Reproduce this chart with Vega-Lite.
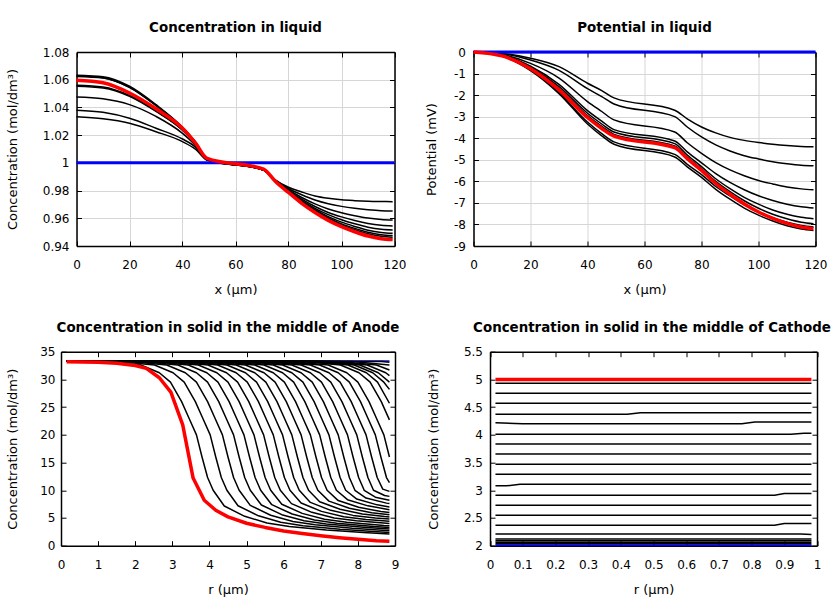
{
"$schema": "https://vega.github.io/schema/vega-lite/v6.json",
"padding": {"left": 6, "top": 21, "right": 0, "bottom": 0},
"background": "white",
"config": {
 "font": "DejaVu Sans",
 "view": {"stroke": null},
 "axis": {"labelFont": "DejaVu Sans", "labelFontSize": 12, "labelColor": "black", "titleFont": "DejaVu Sans", "titleFontSize": 13, "titleFontWeight": "normal", "titleColor": "black", "domain": true, "domainColor": "black", "domainWidth": 1.5, "grid": true, "gridColor": "#d6d6d6", "gridWidth": 1, "tickColor": "black", "tickSize": -5, "tickWidth": 1, "labelFlush": false},
 "axisX": {"labelPadding": 18.5, "titlePadding": 13},
 "axisY": {"labelPadding": 12.5},
 "title": {"font": "DejaVu Sans", "fontSize": 13.4, "fontWeight": "bold", "color": "black", "offset": 11.5, "anchor": "middle"},
 "line": {"strokeJoin": "round", "strokeCap": "butt"}
},
"datasets": {
"d1": [
{"s":"b1","x":0,"y":1.0332},{"s":"b1","x":10,"y":1.0318},{"s":"b1","x":20,"y":1.0286},{"s":"b1","x":30,"y":1.0225},{"s":"b1","x":40,"y":1.0153},{"s":"b1","x":45,"y":1.0097},{"s":"b1","x":49.3,"y":1.002},{"s":"b1","x":70.6,"y":0.9949},{"s":"b1","x":75,"y":0.9878},{"s":"b1","x":80,"y":0.9824},{"s":"b1","x":85,"y":0.979},{"s":"b1","x":90,"y":0.9761},{"s":"b1","x":95,"y":0.9744},{"s":"b1","x":100,"y":0.9733},{"s":"b1","x":105,"y":0.9727},{"s":"b1","x":110,"y":0.9723},{"s":"b1","x":115,"y":0.9721},{"s":"b1","x":119.3,"y":0.972},
{"s":"b2","x":0,"y":1.038},{"s":"b2","x":10,"y":1.0365},{"s":"b2","x":20,"y":1.0322},{"s":"b2","x":30,"y":1.025},{"s":"b2","x":40,"y":1.0172},{"s":"b2","x":45,"y":1.0112},{"s":"b2","x":49.3,"y":1.002},{"s":"b2","x":70.6,"y":0.9949},{"s":"b2","x":75,"y":0.9875},{"s":"b2","x":80,"y":0.9815},{"s":"b2","x":85,"y":0.977},{"s":"b2","x":90,"y":0.9732},{"s":"b2","x":95,"y":0.9705},{"s":"b2","x":100,"y":0.9686},{"s":"b2","x":105,"y":0.9672},{"s":"b2","x":110,"y":0.9662},{"s":"b2","x":115,"y":0.9655},{"s":"b2","x":119.3,"y":0.9653},
{"s":"b3","x":0,"y":1.0475},{"s":"b3","x":10,"y":1.0462},{"s":"b3","x":20,"y":1.042},{"s":"b3","x":30,"y":1.0335},{"s":"b3","x":40,"y":1.0213},{"s":"b3","x":45,"y":1.0124},{"s":"b3","x":49.3,"y":1.0022},{"s":"b3","x":70.6,"y":0.9949},{"s":"b3","x":75,"y":0.9873},{"s":"b3","x":80,"y":0.9806},{"s":"b3","x":85,"y":0.975},{"s":"b3","x":90,"y":0.9704},{"s":"b3","x":95,"y":0.9667},{"s":"b3","x":100,"y":0.964},{"s":"b3","x":105,"y":0.9619},{"s":"b3","x":110,"y":0.9602},{"s":"b3","x":115,"y":0.9592},{"s":"b3","x":119.3,"y":0.9588},
{"s":"b4","x":0,"y":1.0553},{"s":"b4","x":10,"y":1.054},{"s":"b4","x":20,"y":1.048},{"s":"b4","x":30,"y":1.0371},{"s":"b4","x":40,"y":1.0236},{"s":"b4","x":45,"y":1.0136},{"s":"b4","x":49.3,"y":1.0023},{"s":"b4","x":70.6,"y":0.9949},{"s":"b4","x":75,"y":0.9871},{"s":"b4","x":80,"y":0.98},{"s":"b4","x":85,"y":0.9738},{"s":"b4","x":90,"y":0.9685},{"s":"b4","x":95,"y":0.9642},{"s":"b4","x":100,"y":0.961},{"s":"b4","x":105,"y":0.9584},{"s":"b4","x":110,"y":0.9563},{"s":"b4","x":115,"y":0.955},{"s":"b4","x":119.3,"y":0.9545},
{"s":"b5","x":0,"y":1.056},{"s":"b5","x":10,"y":1.0547},{"s":"b5","x":20,"y":1.0486},{"s":"b5","x":30,"y":1.0375},{"s":"b5","x":40,"y":1.0238},{"s":"b5","x":45,"y":1.0138},{"s":"b5","x":49.3,"y":1.0023},{"s":"b5","x":70.6,"y":0.9949},{"s":"b5","x":75,"y":0.987},{"s":"b5","x":80,"y":0.9796},{"s":"b5","x":85,"y":0.9729},{"s":"b5","x":90,"y":0.9672},{"s":"b5","x":95,"y":0.9626},{"s":"b5","x":100,"y":0.9589},{"s":"b5","x":105,"y":0.956},{"s":"b5","x":110,"y":0.9536},{"s":"b5","x":115,"y":0.9521},{"s":"b5","x":119.3,"y":0.9516},
{"s":"b6","x":0,"y":1.0628},{"s":"b6","x":10,"y":1.0615},{"s":"b6","x":20,"y":1.0545},{"s":"b6","x":30,"y":1.0413},{"s":"b6","x":40,"y":1.0253},{"s":"b6","x":45,"y":1.0145},{"s":"b6","x":49.3,"y":1.0024},{"s":"b6","x":70.6,"y":0.9949},{"s":"b6","x":75,"y":0.9869},{"s":"b6","x":80,"y":0.9792},{"s":"b6","x":85,"y":0.9722},{"s":"b6","x":90,"y":0.9662},{"s":"b6","x":95,"y":0.9612},{"s":"b6","x":100,"y":0.9572},{"s":"b6","x":105,"y":0.9541},{"s":"b6","x":110,"y":0.9514},{"s":"b6","x":115,"y":0.9498},{"s":"b6","x":119.3,"y":0.9492},
{"s":"b7","x":0,"y":1.0623},{"s":"b7","x":10,"y":1.0612},{"s":"b7","x":20,"y":1.0545},{"s":"b7","x":30,"y":1.0415},{"s":"b7","x":40,"y":1.0255},{"s":"b7","x":45,"y":1.0147},{"s":"b7","x":49.3,"y":1.0025},{"s":"b7","x":70.6,"y":0.9949},{"s":"b7","x":75,"y":0.9868},{"s":"b7","x":80,"y":0.979},{"s":"b7","x":85,"y":0.9717},{"s":"b7","x":90,"y":0.9655},{"s":"b7","x":95,"y":0.9602},{"s":"b7","x":100,"y":0.956},{"s":"b7","x":105,"y":0.9527},{"s":"b7","x":110,"y":0.9499},{"s":"b7","x":115,"y":0.9481},{"s":"b7","x":119.3,"y":0.9475},
{"s":"b8","x":0,"y":1.0633},{"s":"b8","x":10,"y":1.0622},{"s":"b8","x":20,"y":1.0553},{"s":"b8","x":30,"y":1.042},{"s":"b8","x":40,"y":1.0257},{"s":"b8","x":45,"y":1.0148},{"s":"b8","x":49.3,"y":1.0025},{"s":"b8","x":70.6,"y":0.9949},{"s":"b8","x":75,"y":0.9868},{"s":"b8","x":80,"y":0.9788},{"s":"b8","x":85,"y":0.9713},{"s":"b8","x":90,"y":0.9649},{"s":"b8","x":95,"y":0.9595},{"s":"b8","x":100,"y":0.9552},{"s":"b8","x":105,"y":0.9517},{"s":"b8","x":110,"y":0.9488},{"s":"b8","x":115,"y":0.947},{"s":"b8","x":119.3,"y":0.9463},
{"s":"red","x":0,"y":1.0596},{"s":"red","x":10,"y":1.0578},{"s":"red","x":20,"y":1.0504},{"s":"red","x":30,"y":1.039},{"s":"red","x":40,"y":1.025},{"s":"red","x":45,"y":1.014},{"s":"red","x":49.3,"y":1.0032},{"s":"red","x":70.6,"y":0.9955},{"s":"red","x":75,"y":0.9867},{"s":"red","x":80,"y":0.9786},{"s":"red","x":85,"y":0.9708},{"s":"red","x":90,"y":0.9642},{"s":"red","x":95,"y":0.9585},{"s":"red","x":100,"y":0.954},{"s":"red","x":105,"y":0.9503},{"s":"red","x":110,"y":0.9472},{"s":"red","x":115,"y":0.9453},{"s":"red","x":119.3,"y":0.9446},
{"s":"blue","x":0,"y":1},{"s":"blue","x":120,"y":1}
],
"d2": [
{"s":"p1","x":0,"y":0},{"s":"p1","x":10,"y":-0.064},{"s":"p1","x":20,"y":-0.29},{"s":"p1","x":30,"y":-0.68},{"s":"p1","x":40,"y":-1.45},{"s":"p1","x":45,"y":-1.79},{"s":"p1","x":49.3,"y":-2.13},{"s":"p1","x":70.6,"y":-2.7},{"s":"p1","x":75,"y":-3.1},{"s":"p1","x":80,"y":-3.48},{"s":"p1","x":85,"y":-3.75},{"s":"p1","x":90,"y":-3.96},{"s":"p1","x":95,"y":-4.1},{"s":"p1","x":100,"y":-4.2},{"s":"p1","x":105,"y":-4.28},{"s":"p1","x":110,"y":-4.34},{"s":"p1","x":115,"y":-4.38},{"s":"p1","x":119.3,"y":-4.4},
{"s":"p2","x":0,"y":0},{"s":"p2","x":10,"y":-0.08},{"s":"p2","x":20,"y":-0.37},{"s":"p2","x":30,"y":-0.85},{"s":"p2","x":40,"y":-1.7},{"s":"p2","x":45,"y":-2.07},{"s":"p2","x":49.3,"y":-2.41},{"s":"p2","x":70.6,"y":-3},{"s":"p2","x":75,"y":-3.48},{"s":"p2","x":80,"y":-3.94},{"s":"p2","x":85,"y":-4.31},{"s":"p2","x":90,"y":-4.59},{"s":"p2","x":95,"y":-4.81},{"s":"p2","x":100,"y":-4.96},{"s":"p2","x":105,"y":-5.09},{"s":"p2","x":110,"y":-5.18},{"s":"p2","x":115,"y":-5.25},{"s":"p2","x":119.3,"y":-5.28},
{"s":"p3","x":0,"y":0},{"s":"p3","x":10,"y":-0.12},{"s":"p3","x":20,"y":-0.53},{"s":"p3","x":30,"y":-1.21},{"s":"p3","x":40,"y":-2.3},{"s":"p3","x":45,"y":-2.76},{"s":"p3","x":49.3,"y":-3.15},{"s":"p3","x":70.6,"y":-3.71},{"s":"p3","x":75,"y":-4.21},{"s":"p3","x":80,"y":-4.7},{"s":"p3","x":85,"y":-5.13},{"s":"p3","x":90,"y":-5.47},{"s":"p3","x":95,"y":-5.74},{"s":"p3","x":100,"y":-5.96},{"s":"p3","x":105,"y":-6.12},{"s":"p3","x":110,"y":-6.26},{"s":"p3","x":115,"y":-6.35},{"s":"p3","x":119.3,"y":-6.39},
{"s":"p4","x":0,"y":0},{"s":"p4","x":10,"y":-0.15},{"s":"p4","x":20,"y":-0.66},{"s":"p4","x":30,"y":-1.5},{"s":"p4","x":40,"y":-2.72},{"s":"p4","x":45,"y":-3.21},{"s":"p4","x":49.3,"y":-3.6},{"s":"p4","x":70.6,"y":-4.13},{"s":"p4","x":75,"y":-4.63},{"s":"p4","x":80,"y":-5.14},{"s":"p4","x":85,"y":-5.64},{"s":"p4","x":90,"y":-6.05},{"s":"p4","x":95,"y":-6.39},{"s":"p4","x":100,"y":-6.67},{"s":"p4","x":105,"y":-6.89},{"s":"p4","x":110,"y":-7.06},{"s":"p4","x":115,"y":-7.18},{"s":"p4","x":119.3,"y":-7.24},
{"s":"p5","x":0,"y":0},{"s":"p5","x":10,"y":-0.16},{"s":"p5","x":20,"y":-0.71},{"s":"p5","x":30,"y":-1.6},{"s":"p5","x":40,"y":-2.84},{"s":"p5","x":45,"y":-3.34},{"s":"p5","x":49.3,"y":-3.71},{"s":"p5","x":70.6,"y":-4.25},{"s":"p5","x":75,"y":-4.78},{"s":"p5","x":80,"y":-5.32},{"s":"p5","x":85,"y":-5.88},{"s":"p5","x":90,"y":-6.34},{"s":"p5","x":95,"y":-6.74},{"s":"p5","x":100,"y":-7.06},{"s":"p5","x":105,"y":-7.33},{"s":"p5","x":110,"y":-7.53},{"s":"p5","x":115,"y":-7.67},{"s":"p5","x":119.3,"y":-7.74},
{"s":"p6","x":0,"y":0},{"s":"p6","x":10,"y":-0.17},{"s":"p6","x":20,"y":-0.74},{"s":"p6","x":30,"y":-1.68},{"s":"p6","x":40,"y":-2.95},{"s":"p6","x":45,"y":-3.45},{"s":"p6","x":49.3,"y":-3.82},{"s":"p6","x":70.6,"y":-4.36},{"s":"p6","x":75,"y":-4.88},{"s":"p6","x":80,"y":-5.42},{"s":"p6","x":85,"y":-6},{"s":"p6","x":90,"y":-6.48},{"s":"p6","x":95,"y":-6.9},{"s":"p6","x":100,"y":-7.25},{"s":"p6","x":105,"y":-7.53},{"s":"p6","x":110,"y":-7.74},{"s":"p6","x":115,"y":-7.9},{"s":"p6","x":119.3,"y":-7.97},
{"s":"p8","x":0,"y":0},{"s":"p8","x":10,"y":-0.19},{"s":"p8","x":20,"y":-0.83},{"s":"p8","x":30,"y":-1.88},{"s":"p8","x":40,"y":-3.25},{"s":"p8","x":45,"y":-3.79},{"s":"p8","x":49.3,"y":-4.17},{"s":"p8","x":70.6,"y":-4.75},{"s":"p8","x":75,"y":-5.21},{"s":"p8","x":80,"y":-5.69},{"s":"p8","x":85,"y":-6.24},{"s":"p8","x":90,"y":-6.68},{"s":"p8","x":95,"y":-7.09},{"s":"p8","x":100,"y":-7.42},{"s":"p8","x":105,"y":-7.69},{"s":"p8","x":110,"y":-7.9},{"s":"p8","x":115,"y":-8.05},{"s":"p8","x":119.3,"y":-8.12},
{"s":"p9","x":0,"y":0},{"s":"p9","x":10,"y":-0.19},{"s":"p9","x":20,"y":-0.86},{"s":"p9","x":30,"y":-1.93},{"s":"p9","x":40,"y":-3.34},{"s":"p9","x":45,"y":-3.89},{"s":"p9","x":49.3,"y":-4.28},{"s":"p9","x":70.6,"y":-4.87},{"s":"p9","x":75,"y":-5.33},{"s":"p9","x":80,"y":-5.82},{"s":"p9","x":85,"y":-6.37},{"s":"p9","x":90,"y":-6.83},{"s":"p9","x":95,"y":-7.24},{"s":"p9","x":100,"y":-7.57},{"s":"p9","x":105,"y":-7.84},{"s":"p9","x":110,"y":-8.06},{"s":"p9","x":115,"y":-8.21},{"s":"p9","x":119.3,"y":-8.28},
{"s":"red","x":0,"y":0},{"s":"red","x":10,"y":-0.18},{"s":"red","x":20,"y":-0.78},{"s":"red","x":30,"y":-1.76},{"s":"red","x":40,"y":-3.04},{"s":"red","x":45,"y":-3.55},{"s":"red","x":49.3,"y":-3.9},{"s":"red","x":70.6,"y":-4.44},{"s":"red","x":75,"y":-4.95},{"s":"red","x":80,"y":-5.49},{"s":"red","x":85,"y":-6.1},{"s":"red","x":90,"y":-6.6},{"s":"red","x":95,"y":-7.05},{"s":"red","x":100,"y":-7.42},{"s":"red","x":105,"y":-7.72},{"s":"red","x":110,"y":-7.95},{"s":"red","x":115,"y":-8.12},{"s":"red","x":119.3,"y":-8.2},
{"s":"blue","x":0,"y":0},{"s":"blue","x":120,"y":0}
],
"d3": [
{"s":"c1","x":0.15,"y":33.3},{"s":"c1","x":1.15,"y":33.25},{"s":"c1","x":2.15,"y":32.6},{"s":"c1","x":2.65,"y":31.2},{"s":"c1","x":2.95,"y":29.5},{"s":"c1","x":3.25,"y":26},{"s":"c1","x":3.45,"y":23},{"s":"c1","x":3.65,"y":20},{"s":"c1","x":3.8,"y":16},{"s":"c1","x":3.95,"y":12.3},{"s":"c1","x":4.1,"y":10},{"s":"c1","x":4.4,"y":7.16},{"s":"c1","x":4.95,"y":5.3},{"s":"c1","x":5.55,"y":4.11},{"s":"c1","x":6.15,"y":3.48},{"s":"c1","x":7.15,"y":2.85},{"s":"c1","x":8.15,"y":2.38},{"s":"c1","x":8.85,"y":2.1},
{"s":"c2","x":0.15,"y":33.3},{"s":"c2","x":1.52,"y":33.25},{"s":"c2","x":2.52,"y":32.6},{"s":"c2","x":3.02,"y":31.2},{"s":"c2","x":3.32,"y":29.5},{"s":"c2","x":3.62,"y":26},{"s":"c2","x":3.82,"y":23},{"s":"c2","x":4.02,"y":20},{"s":"c2","x":4.17,"y":16},{"s":"c2","x":4.32,"y":12.3},{"s":"c2","x":4.47,"y":10},{"s":"c2","x":4.77,"y":7.21},{"s":"c2","x":5.32,"y":5.39},{"s":"c2","x":5.92,"y":4.22},{"s":"c2","x":6.52,"y":3.6},{"s":"c2","x":7.52,"y":2.98},{"s":"c2","x":8.52,"y":2.52},{"s":"c2","x":8.85,"y":2.4},
{"s":"c3","x":0.15,"y":33.3},{"s":"c3","x":1.85,"y":33.25},{"s":"c3","x":2.85,"y":32.6},{"s":"c3","x":3.35,"y":31.2},{"s":"c3","x":3.65,"y":29.5},{"s":"c3","x":3.95,"y":26},{"s":"c3","x":4.15,"y":23},{"s":"c3","x":4.35,"y":20},{"s":"c3","x":4.5,"y":16},{"s":"c3","x":4.65,"y":12.3},{"s":"c3","x":4.8,"y":10},{"s":"c3","x":5.1,"y":7.28},{"s":"c3","x":5.65,"y":5.5},{"s":"c3","x":6.25,"y":4.36},{"s":"c3","x":6.85,"y":3.76},{"s":"c3","x":7.85,"y":3.15},{"s":"c3","x":8.85,"y":2.7},
{"s":"c4","x":0.15,"y":33.3},{"s":"c4","x":2.15,"y":33.25},{"s":"c4","x":3.15,"y":32.6},{"s":"c4","x":3.65,"y":31.2},{"s":"c4","x":3.95,"y":29.5},{"s":"c4","x":4.25,"y":26},{"s":"c4","x":4.45,"y":23},{"s":"c4","x":4.65,"y":20},{"s":"c4","x":4.8,"y":16},{"s":"c4","x":4.95,"y":12.3},{"s":"c4","x":5.1,"y":10},{"s":"c4","x":5.4,"y":7.34},{"s":"c4","x":5.95,"y":5.6},{"s":"c4","x":6.55,"y":4.49},{"s":"c4","x":7.15,"y":3.9},{"s":"c4","x":8.15,"y":3.31},{"s":"c4","x":8.85,"y":3},
{"s":"c5","x":0.15,"y":33.3},{"s":"c5","x":2.43,"y":33.25},{"s":"c5","x":3.43,"y":32.6},{"s":"c5","x":3.93,"y":31.2},{"s":"c5","x":4.23,"y":29.5},{"s":"c5","x":4.53,"y":26},{"s":"c5","x":4.73,"y":23},{"s":"c5","x":4.93,"y":20},{"s":"c5","x":5.08,"y":16},{"s":"c5","x":5.23,"y":12.3},{"s":"c5","x":5.38,"y":10},{"s":"c5","x":5.68,"y":7.4},{"s":"c5","x":6.23,"y":5.71},{"s":"c5","x":6.83,"y":4.63},{"s":"c5","x":7.43,"y":4.06},{"s":"c5","x":8.43,"y":3.48},{"s":"c5","x":8.85,"y":3.3},
{"s":"c6","x":0.15,"y":33.3},{"s":"c6","x":2.7,"y":33.25},{"s":"c6","x":3.7,"y":32.6},{"s":"c6","x":4.2,"y":31.2},{"s":"c6","x":4.5,"y":29.5},{"s":"c6","x":4.8,"y":26},{"s":"c6","x":5,"y":23},{"s":"c6","x":5.2,"y":20},{"s":"c6","x":5.35,"y":16},{"s":"c6","x":5.5,"y":12.3},{"s":"c6","x":5.65,"y":10},{"s":"c6","x":5.95,"y":7.48},{"s":"c6","x":6.5,"y":5.83},{"s":"c6","x":7.1,"y":4.78},{"s":"c6","x":7.7,"y":4.22},{"s":"c6","x":8.7,"y":3.66},{"s":"c6","x":8.85,"y":3.6},
{"s":"c7","x":0.15,"y":33.3},{"s":"c7","x":2.96,"y":33.25},{"s":"c7","x":3.96,"y":32.6},{"s":"c7","x":4.46,"y":31.2},{"s":"c7","x":4.76,"y":29.5},{"s":"c7","x":5.06,"y":26},{"s":"c7","x":5.26,"y":23},{"s":"c7","x":5.46,"y":20},{"s":"c7","x":5.61,"y":16},{"s":"c7","x":5.76,"y":12.3},{"s":"c7","x":5.91,"y":10},{"s":"c7","x":6.21,"y":7.59},{"s":"c7","x":6.76,"y":6.02},{"s":"c7","x":7.36,"y":5.01},{"s":"c7","x":7.96,"y":4.48},{"s":"c7","x":8.85,"y":4},
{"s":"c8","x":0.15,"y":33.3},{"s":"c8","x":3.22,"y":33.25},{"s":"c8","x":4.22,"y":32.6},{"s":"c8","x":4.72,"y":31.2},{"s":"c8","x":5.02,"y":29.5},{"s":"c8","x":5.32,"y":26},{"s":"c8","x":5.52,"y":23},{"s":"c8","x":5.72,"y":20},{"s":"c8","x":5.87,"y":16},{"s":"c8","x":6.02,"y":12.3},{"s":"c8","x":6.17,"y":10},{"s":"c8","x":6.47,"y":7.7},{"s":"c8","x":7.02,"y":6.19},{"s":"c8","x":7.62,"y":5.23},{"s":"c8","x":8.22,"y":4.72},{"s":"c8","x":8.85,"y":4.4},
{"s":"c9","x":0.15,"y":33.3},{"s":"c9","x":3.47,"y":33.25},{"s":"c9","x":4.47,"y":32.6},{"s":"c9","x":4.97,"y":31.2},{"s":"c9","x":5.27,"y":29.5},{"s":"c9","x":5.57,"y":26},{"s":"c9","x":5.77,"y":23},{"s":"c9","x":5.97,"y":20},{"s":"c9","x":6.12,"y":16},{"s":"c9","x":6.27,"y":12.3},{"s":"c9","x":6.42,"y":10},{"s":"c9","x":6.72,"y":7.81},{"s":"c9","x":7.27,"y":6.38},{"s":"c9","x":7.87,"y":5.47},{"s":"c9","x":8.47,"y":4.98},{"s":"c9","x":8.85,"y":4.8},
{"s":"c10","x":0.15,"y":33.3},{"s":"c10","x":3.72,"y":33.25},{"s":"c10","x":4.72,"y":32.6},{"s":"c10","x":5.22,"y":31.2},{"s":"c10","x":5.52,"y":29.5},{"s":"c10","x":5.82,"y":26},{"s":"c10","x":6.02,"y":23},{"s":"c10","x":6.22,"y":20},{"s":"c10","x":6.37,"y":16},{"s":"c10","x":6.52,"y":12.3},{"s":"c10","x":6.67,"y":10},{"s":"c10","x":6.97,"y":7.93},{"s":"c10","x":7.52,"y":6.58},{"s":"c10","x":8.12,"y":5.72},{"s":"c10","x":8.72,"y":5.26},{"s":"c10","x":8.85,"y":5.2},
{"s":"c11","x":0.15,"y":33.3},{"s":"c11","x":3.97,"y":33.25},{"s":"c11","x":4.97,"y":32.6},{"s":"c11","x":5.47,"y":31.2},{"s":"c11","x":5.77,"y":29.5},{"s":"c11","x":6.07,"y":26},{"s":"c11","x":6.27,"y":23},{"s":"c11","x":6.47,"y":20},{"s":"c11","x":6.62,"y":16},{"s":"c11","x":6.77,"y":12.3},{"s":"c11","x":6.92,"y":10},{"s":"c11","x":7.22,"y":8.04},{"s":"c11","x":7.77,"y":6.76},{"s":"c11","x":8.37,"y":5.95},{"s":"c11","x":8.85,"y":5.6},
{"s":"c12","x":0.15,"y":33.3},{"s":"c12","x":4.22,"y":33.25},{"s":"c12","x":5.22,"y":32.6},{"s":"c12","x":5.72,"y":31.2},{"s":"c12","x":6.02,"y":29.5},{"s":"c12","x":6.32,"y":26},{"s":"c12","x":6.52,"y":23},{"s":"c12","x":6.72,"y":20},{"s":"c12","x":6.87,"y":16},{"s":"c12","x":7.02,"y":12.3},{"s":"c12","x":7.17,"y":10},{"s":"c12","x":7.47,"y":8.14},{"s":"c12","x":8.02,"y":6.93},{"s":"c12","x":8.62,"y":6.16},{"s":"c12","x":8.85,"y":6},
{"s":"c13","x":0.15,"y":33.3},{"s":"c13","x":4.47,"y":33.25},{"s":"c13","x":5.47,"y":32.6},{"s":"c13","x":5.97,"y":31.2},{"s":"c13","x":6.27,"y":29.5},{"s":"c13","x":6.57,"y":26},{"s":"c13","x":6.77,"y":23},{"s":"c13","x":6.97,"y":20},{"s":"c13","x":7.12,"y":16},{"s":"c13","x":7.27,"y":12.3},{"s":"c13","x":7.42,"y":10},{"s":"c13","x":7.72,"y":8.3},{"s":"c13","x":8.27,"y":7.19},{"s":"c13","x":8.85,"y":6.5},
{"s":"c14","x":0.15,"y":33.3},{"s":"c14","x":4.72,"y":33.25},{"s":"c14","x":5.72,"y":32.6},{"s":"c14","x":6.22,"y":31.2},{"s":"c14","x":6.52,"y":29.5},{"s":"c14","x":6.82,"y":26},{"s":"c14","x":7.02,"y":23},{"s":"c14","x":7.22,"y":20},{"s":"c14","x":7.37,"y":16},{"s":"c14","x":7.52,"y":12.3},{"s":"c14","x":7.67,"y":10},{"s":"c14","x":7.97,"y":8.41},{"s":"c14","x":8.52,"y":7.37},{"s":"c14","x":8.85,"y":7},
{"s":"c15","x":0.15,"y":33.3},{"s":"c15","x":4.97,"y":33.25},{"s":"c15","x":5.97,"y":32.6},{"s":"c15","x":6.47,"y":31.2},{"s":"c15","x":6.77,"y":29.5},{"s":"c15","x":7.07,"y":26},{"s":"c15","x":7.27,"y":23},{"s":"c15","x":7.47,"y":20},{"s":"c15","x":7.62,"y":16},{"s":"c15","x":7.77,"y":12.3},{"s":"c15","x":7.92,"y":10},{"s":"c15","x":8.22,"y":8.59},{"s":"c15","x":8.77,"y":7.68},{"s":"c15","x":8.85,"y":7.6},
{"s":"c16","x":0.15,"y":33.3},{"s":"c16","x":5.22,"y":33.25},{"s":"c16","x":6.22,"y":32.6},{"s":"c16","x":6.72,"y":31.2},{"s":"c16","x":7.02,"y":29.5},{"s":"c16","x":7.32,"y":26},{"s":"c16","x":7.52,"y":23},{"s":"c16","x":7.72,"y":20},{"s":"c16","x":7.87,"y":16},{"s":"c16","x":8.02,"y":12.3},{"s":"c16","x":8.17,"y":10},{"s":"c16","x":8.47,"y":8.76},{"s":"c16","x":8.85,"y":8.2},
{"s":"c17","x":0.15,"y":33.3},{"s":"c17","x":5.47,"y":33.25},{"s":"c17","x":6.47,"y":32.6},{"s":"c17","x":6.97,"y":31.2},{"s":"c17","x":7.27,"y":29.5},{"s":"c17","x":7.57,"y":26},{"s":"c17","x":7.77,"y":23},{"s":"c17","x":7.97,"y":20},{"s":"c17","x":8.12,"y":16},{"s":"c17","x":8.27,"y":12.3},{"s":"c17","x":8.42,"y":10},{"s":"c17","x":8.72,"y":9.05},{"s":"c17","x":8.85,"y":8.9},
{"s":"c18","x":0.15,"y":33.3},{"s":"c18","x":5.72,"y":33.25},{"s":"c18","x":6.72,"y":32.6},{"s":"c18","x":7.22,"y":31.2},{"s":"c18","x":7.52,"y":29.5},{"s":"c18","x":7.82,"y":26},{"s":"c18","x":8.02,"y":23},{"s":"c18","x":8.22,"y":20},{"s":"c18","x":8.37,"y":16},{"s":"c18","x":8.52,"y":12.3},{"s":"c18","x":8.67,"y":10.2},{"s":"c18","x":8.85,"y":9.8},
{"s":"c19","x":0.15,"y":33.3},{"s":"c19","x":5.97,"y":33.25},{"s":"c19","x":6.97,"y":32.6},{"s":"c19","x":7.47,"y":31.2},{"s":"c19","x":7.77,"y":29.5},{"s":"c19","x":8.07,"y":26},{"s":"c19","x":8.27,"y":23},{"s":"c19","x":8.47,"y":20},{"s":"c19","x":8.62,"y":16},{"s":"c19","x":8.77,"y":12.3},{"s":"c19","x":8.85,"y":11.4},
{"s":"c20","x":0.15,"y":33.3},{"s":"c20","x":6.2,"y":33.25},{"s":"c20","x":7.2,"y":32.6},{"s":"c20","x":7.7,"y":31.2},{"s":"c20","x":8,"y":29.5},{"s":"c20","x":8.3,"y":26},{"s":"c20","x":8.5,"y":23},{"s":"c20","x":8.7,"y":20},{"s":"c20","x":8.85,"y":16},
{"s":"n1","x":0.15,"y":33.3},{"s":"n1","x":6.53,"y":33.25},{"s":"n1","x":7.53,"y":32.6},{"s":"n1","x":8.03,"y":31.2},{"s":"n1","x":8.33,"y":29.5},{"s":"n1","x":8.63,"y":26},{"s":"n1","x":8.85,"y":22.7},
{"s":"n2","x":0.15,"y":33.3},{"s":"n2","x":6.73,"y":33.25},{"s":"n2","x":7.73,"y":32.6},{"s":"n2","x":8.23,"y":31.2},{"s":"n2","x":8.53,"y":29.5},{"s":"n2","x":8.85,"y":25.7},
{"s":"n3","x":0.15,"y":33.3},{"s":"n3","x":6.9,"y":33.25},{"s":"n3","x":7.9,"y":32.6},{"s":"n3","x":8.4,"y":31.2},{"s":"n3","x":8.7,"y":29.5},{"s":"n3","x":8.85,"y":28.2},
{"s":"n4","x":0.15,"y":33.3},{"s":"n4","x":7.05,"y":33.25},{"s":"n4","x":8.05,"y":32.6},{"s":"n4","x":8.55,"y":31.2},{"s":"n4","x":8.85,"y":29.5},
{"s":"n5","x":0.15,"y":33.3},{"s":"n5","x":7.25,"y":33.25},{"s":"n5","x":8.25,"y":32.6},{"s":"n5","x":8.75,"y":31.2},{"s":"n5","x":8.85,"y":30.7},
{"s":"n6","x":0.15,"y":33.3},{"s":"n6","x":7.5,"y":33.25},{"s":"n6","x":8.5,"y":32.6},{"s":"n6","x":8.85,"y":31.7},
{"s":"n7","x":0.15,"y":33.3},{"s":"n7","x":7.85,"y":33.25},{"s":"n7","x":8.85,"y":32.6},
{"s":"n8","x":0.15,"y":33.3},{"s":"n8","x":8.65,"y":33.25},{"s":"n8","x":8.85,"y":33.1},
{"s":"red","x":0.15,"y":33.2},{"s":"red","x":1,"y":33.1},{"s":"red","x":1.5,"y":32.9},{"s":"red","x":2,"y":32.5},{"s":"red","x":2.3,"y":32},{"s":"red","x":2.65,"y":30.3},{"s":"red","x":2.96,"y":27.7},{"s":"red","x":3.28,"y":21.8},{"s":"red","x":3.56,"y":12.2},{"s":"red","x":3.86,"y":8.2},{"s":"red","x":4.17,"y":6.4},{"s":"red","x":4.5,"y":5.2},{"s":"red","x":5,"y":4.05},{"s":"red","x":5.5,"y":3.3},{"s":"red","x":6,"y":2.65},{"s":"red","x":6.5,"y":2.2},{"s":"red","x":7,"y":1.8},{"s":"red","x":7.5,"y":1.45},{"s":"red","x":8,"y":1.15},{"s":"red","x":8.5,"y":0.9},{"s":"red","x":8.85,"y":0.8},
{"s":"blue","x":0.15,"y":33.3},{"s":"blue","x":8.85,"y":33.3}
],
"d4": [
{"s":"l1","x":0.0167,"y":4.93},{"s":"l1","x":0.983,"y":4.93},
{"s":"l2","x":0.0167,"y":4.75},{"s":"l2","x":0.983,"y":4.75},
{"s":"l3","x":0.0167,"y":4.57},{"s":"l3","x":0.983,"y":4.57},
{"s":"l4","x":0.0167,"y":4.37},{"s":"l4","x":0.42,"y":4.37},{"s":"l4","x":0.46,"y":4.4},{"s":"l4","x":0.983,"y":4.4},
{"s":"l5","x":0.0167,"y":4.22},{"s":"l5","x":0.1,"y":4.2},{"s":"l5","x":0.77,"y":4.2},{"s":"l5","x":0.81,"y":4.23},{"s":"l5","x":0.983,"y":4.23},
{"s":"l6","x":0.0167,"y":4.01},{"s":"l6","x":0.92,"y":4.01},{"s":"l6","x":0.96,"y":4.03},{"s":"l6","x":0.983,"y":4.03},
{"s":"l7","x":0.0167,"y":3.835},{"s":"l7","x":0.983,"y":3.835},
{"s":"l8","x":0.0167,"y":3.655},{"s":"l8","x":0.983,"y":3.655},
{"s":"l9","x":0.0167,"y":3.47},{"s":"l9","x":0.983,"y":3.47},
{"s":"l10","x":0.0167,"y":3.29},{"s":"l10","x":0.983,"y":3.29},
{"s":"l11","x":0.0167,"y":3.08},{"s":"l11","x":0.05,"y":3.08},{"s":"l11","x":0.092,"y":3.11},{"s":"l11","x":0.983,"y":3.11},
{"s":"l12","x":0.0167,"y":2.91},{"s":"l12","x":0.87,"y":2.91},{"s":"l12","x":0.9,"y":2.94},{"s":"l12","x":0.983,"y":2.94},
{"s":"l13","x":0.0167,"y":2.73},{"s":"l13","x":0.983,"y":2.73},
{"s":"l14","x":0.0167,"y":2.55},{"s":"l14","x":0.983,"y":2.55},
{"s":"l15","x":0.0167,"y":2.37},{"s":"l15","x":0.87,"y":2.37},{"s":"l15","x":0.9,"y":2.4},{"s":"l15","x":0.983,"y":2.4},
{"s":"l16","x":0.0167,"y":2.21},{"s":"l16","x":0.95,"y":2.21},{"s":"l16","x":0.983,"y":2.2},
{"s":"l17","x":0.0167,"y":2.12},{"s":"l17","x":0.983,"y":2.12},
{"s":"l18","x":0.0167,"y":2.09},{"s":"l18","x":0.983,"y":2.09},
{"s":"l19","x":0.0167,"y":2.06},{"s":"l19","x":0.983,"y":2.06},
{"s":"l20","x":0.0167,"y":2.035},{"s":"l20","x":0.983,"y":2.035},
{"s":"red","x":0.0167,"y":5},{"s":"red","x":0.983,"y":5},
{"s":"blue","x":0.0167,"y":2.008},{"s":"blue","x":0.983,"y":2.008}
]
},
"concat": [
{
 "width": 343.5, "height": 194,
 "title": {"text": "Concentration in liquid", "dx": 2.75},
 "data": {"name": "d1"},
 "layer": [
  {"transform": [{"filter": "datum.s != 'red' && datum.s != 'blue'"}],
   "mark": {"type": "line", "color": "black", "strokeWidth": 1.5, "interpolate": "monotone"},
   "encoding": {
    "x": {"field": "x", "type": "quantitative", "scale": {"domain": [0, 120], "range": [15.5, 333.5], "nice": false, "zero": false}, "axis": {"title": "x (µm)", "values": [0,20,40,60,80,100,120]}},
    "y": {"field": "y", "type": "quantitative", "scale": {"domain": [0.94, 1.08], "nice": false, "zero": false}, "axis": {"title": "Concentration (mol/dm³)", "offset": -15.5, "titlePadding": 23, "values": [0.94,0.96,0.98,1,1.02,1.04,1.06,1.08], "format": "~g"}},
    "detail": {"field": "s"}}},
  {"transform": [{"filter": "datum.s == 'blue'"}],
   "mark": {"type": "line", "color": "#0000ff", "strokeWidth": 3},
   "encoding": {
    "x": {"field": "x", "type": "quantitative", "scale": {"domain": [0, 120], "range": [15.5, 333.5], "nice": false, "zero": false}, "axis": null},
    "y": {"field": "y", "type": "quantitative", "scale": {"domain": [0.94, 1.08], "nice": false, "zero": false}, "axis": null}}},
  {"transform": [{"filter": "datum.s == 'red'"}],
   "mark": {"type": "line", "color": "#ff0000", "strokeWidth": 3.5, "interpolate": "monotone"},
   "encoding": {
    "x": {"field": "x", "type": "quantitative", "scale": {"domain": [0, 120], "range": [15.5, 333.5], "nice": false, "zero": false}, "axis": {"orient": "top", "labels": false, "grid": false, "title": null, "values": [0,20,40,60,80,100,120]}},
    "y": {"field": "y", "type": "quantitative", "scale": {"domain": [0.94, 1.08], "nice": false, "zero": false}, "axis": {"orient": "right", "offset": -10, "labels": false, "grid": false, "title": null, "values": [0.94,0.96,0.98,1,1.02,1.04,1.06,1.08]}}}}
 ],
 "resolve": {"axis": {"x": "independent", "y": "independent"}}
},
{
 "width": 343.5, "height": 194,
 "title": {"text": "Potential in liquid", "dx": -0.75},
 "data": {"name": "d2"},
 "layer": [
  {"transform": [{"filter": "datum.s != 'red' && datum.s != 'blue'"}],
   "mark": {"type": "line", "color": "black", "strokeWidth": 1.5, "interpolate": "monotone"},
   "encoding": {
    "x": {"field": "x", "type": "quantitative", "scale": {"domain": [0, 120], "range": [0, 342], "nice": false, "zero": false}, "axis": {"title": "x (µm)", "values": [0,20,40,60,80,100,120]}},
    "y": {"field": "y", "type": "quantitative", "scale": {"domain": [-9, 0], "nice": false, "zero": false}, "axis": {"title": "Potential (mV)", "labelPadding": 13, "titlePadding": 14.8, "values": [-9,-8,-7,-6,-5,-4,-3,-2,-1,0], "labelExpr": "replace(datum.label, '−', '-')"}},
    "detail": {"field": "s"}}},
  {"transform": [{"filter": "datum.s == 'blue'"}],
   "mark": {"type": "line", "color": "#0000ff", "strokeWidth": 3},
   "encoding": {
    "x": {"field": "x", "type": "quantitative", "scale": {"domain": [0, 120], "range": [0, 342], "nice": false, "zero": false}, "axis": null},
    "y": {"field": "y", "type": "quantitative", "scale": {"domain": [-9, 0], "nice": false, "zero": false}, "axis": null}}},
  {"transform": [{"filter": "datum.s == 'red'"}],
   "mark": {"type": "line", "color": "#ff0000", "strokeWidth": 3.5, "interpolate": "monotone"},
   "encoding": {
    "x": {"field": "x", "type": "quantitative", "scale": {"domain": [0, 120], "range": [0, 342], "nice": false, "zero": false}, "axis": {"orient": "top", "labels": false, "grid": false, "title": null, "values": [0,20,40,60,80,100,120]}},
    "y": {"field": "y", "type": "quantitative", "scale": {"domain": [-9, 0], "nice": false, "zero": false}, "axis": {"orient": "right", "offset": -1.5, "labels": false, "grid": false, "title": null, "values": [-9,-8,-7,-6,-5,-4,-3,-2,-1,0]}}}}
 ],
 "resolve": {"axis": {"x": "independent", "y": "independent"}}
},
{
 "width": 343.5, "height": 194,
 "title": {"text": "Concentration in solid in the middle of Anode", "dx": -4.75},
 "data": {"name": "d3"},
 "layer": [
  {"transform": [{"filter": "datum.s == 'blue'"}],
   "mark": {"type": "line", "color": "#0000ff", "strokeWidth": 1.5},
   "encoding": {
    "x": {"field": "x", "type": "quantitative", "scale": {"domain": [0, 9], "range": [0, 334], "nice": false, "zero": false}, "axis": null},
    "y": {"field": "y", "type": "quantitative", "scale": {"domain": [0, 35], "nice": false, "zero": false}, "axis": null}}},
  {"transform": [{"filter": "datum.s != 'red' && datum.s != 'blue'"}],
   "mark": {"type": "line", "color": "black", "strokeWidth": 1.5},
   "encoding": {
    "x": {"field": "x", "type": "quantitative", "scale": {"domain": [0, 9], "range": [0, 334], "nice": false, "zero": false}, "axis": {"title": "r (µm)", "values": [0,1,2,3,4,5,6,7,8,9]}},
    "y": {"field": "y", "type": "quantitative", "scale": {"domain": [0, 35], "nice": false, "zero": false}, "axis": {"title": "Concentration (mol/dm³)", "labelPadding": 11, "titlePadding": 20.2, "values": [0,5,10,15,20,25,30,35]}},
    "detail": {"field": "s"}}},
  {"transform": [{"filter": "datum.s == 'red'"}],
   "mark": {"type": "line", "color": "#ff0000", "strokeWidth": 3.5},
   "encoding": {
    "x": {"field": "x", "type": "quantitative", "scale": {"domain": [0, 9], "range": [0, 334], "nice": false, "zero": false}, "axis": {"orient": "top", "labels": false, "grid": false, "title": null, "values": [0,1,2,3,4,5,6,7,8,9]}},
    "y": {"field": "y", "type": "quantitative", "scale": {"domain": [0, 35], "nice": false, "zero": false}, "axis": {"orient": "right", "offset": -9.5, "labels": false, "grid": false, "title": null, "values": [0,5,10,15,20,25,30,35]}}}}
 ],
 "resolve": {"axis": {"x": "independent", "y": "independent"}}
},
{
 "width": 343.5, "height": 194,
 "title": {"text": "Concentration in solid in the middle of Cathode", "dx": 6.75},
 "data": {"name": "d4"},
 "layer": [
  {"transform": [{"filter": "datum.s == 'blue'"}],
   "mark": {"type": "line", "color": "#0000ff", "strokeWidth": 2},
   "encoding": {
    "x": {"field": "x", "type": "quantitative", "scale": {"domain": [0, 1], "range": [16.5, 343.5], "nice": false, "zero": false}, "axis": null},
    "y": {"field": "y", "type": "quantitative", "scale": {"domain": [2, 5.5], "nice": false, "zero": false}, "axis": null}}},
  {"transform": [{"filter": "datum.s != 'red' && datum.s != 'blue'"}],
   "mark": {"type": "line", "color": "black", "strokeWidth": 1.5},
   "encoding": {
    "x": {"field": "x", "type": "quantitative", "scale": {"domain": [0, 1], "range": [16.5, 343.5], "nice": false, "zero": false}, "axis": {"title": "r (µm)", "values": [0,0.1,0.2,0.3,0.4,0.5,0.6,0.7,0.8,0.9,1], "format": "~g"}},
    "y": {"field": "y", "type": "quantitative", "scale": {"domain": [2, 5.5], "nice": false, "zero": false}, "axis": {"title": "Concentration (mol/dm³)", "offset": -16.5, "titlePadding": 23.4, "values": [2,2.5,3,3.5,4,4.5,5,5.5], "format": "~g"}},
    "detail": {"field": "s"}}},
  {"transform": [{"filter": "datum.s == 'red'"}],
   "mark": {"type": "line", "color": "#ff0000", "strokeWidth": 3.5},
   "encoding": {
    "x": {"field": "x", "type": "quantitative", "scale": {"domain": [0, 1], "range": [16.5, 343.5], "nice": false, "zero": false}, "axis": {"orient": "top", "labels": false, "grid": false, "title": null, "values": [0,0.1,0.2,0.3,0.4,0.5,0.6,0.7,0.8,0.9,1]}},
    "y": {"field": "y", "type": "quantitative", "scale": {"domain": [2, 5.5], "nice": false, "zero": false}, "axis": {"orient": "right", "labels": false, "grid": false, "title": null, "values": [2,2.5,3,3.5,4,4.5,5,5.5]}}}}
 ],
 "resolve": {"axis": {"x": "independent", "y": "independent"}}
}
], "columns": 2, "bounds": "flush", "spacing": {"row": 105.7, "column": 68.5}
}
